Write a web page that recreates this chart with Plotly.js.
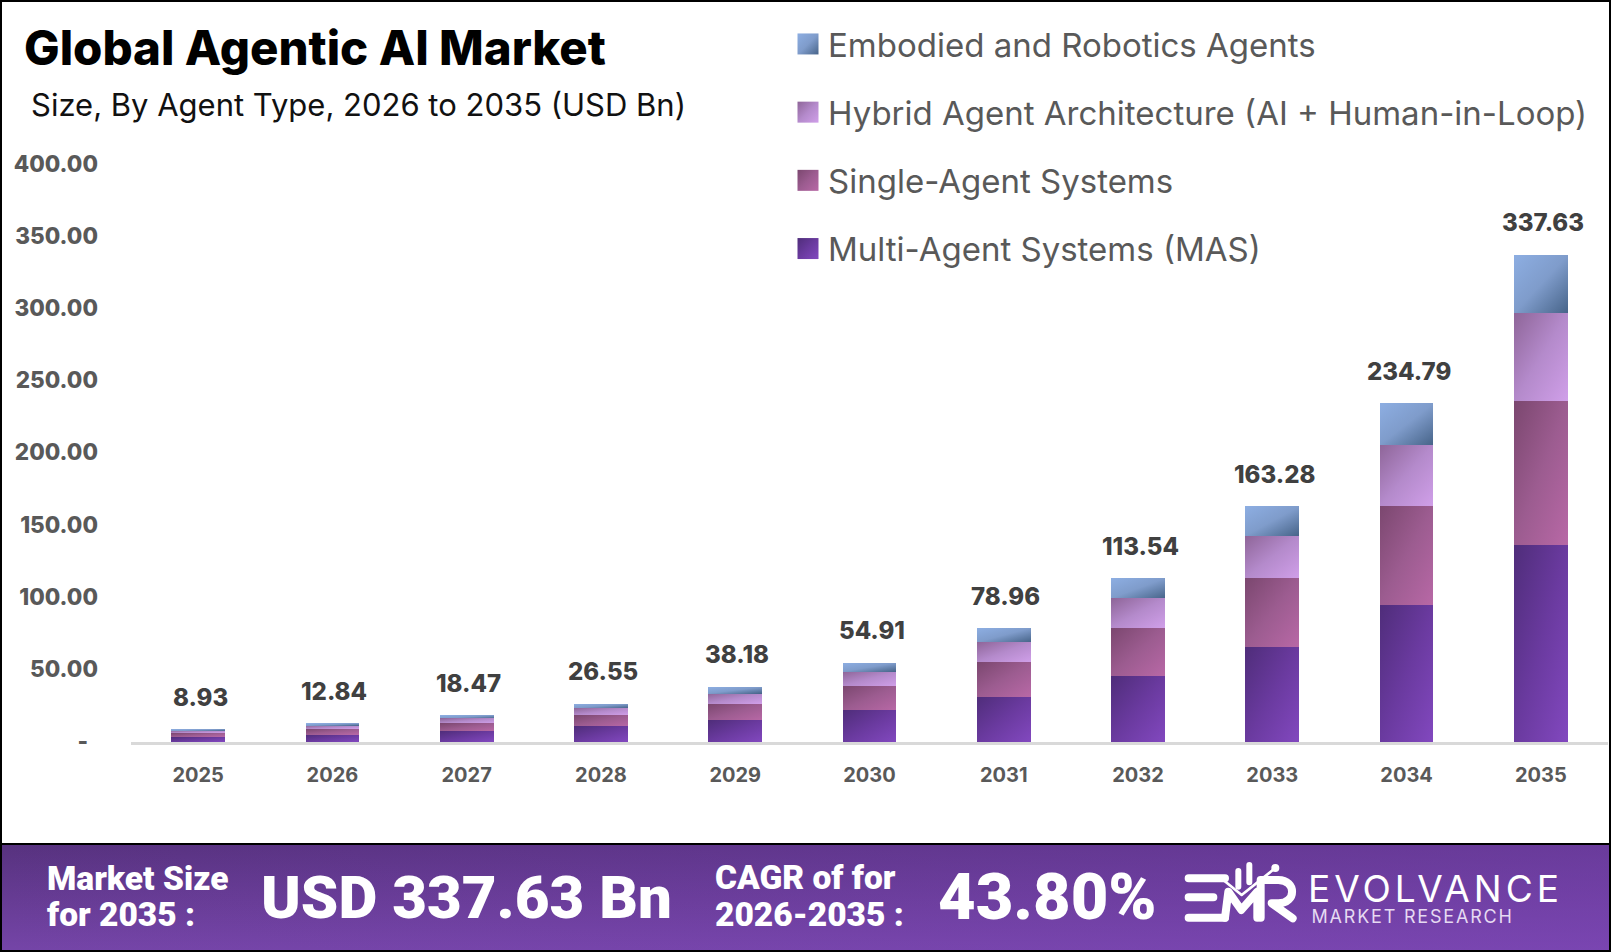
<!DOCTYPE html>
<html><head><meta charset="utf-8">
<script src="https://cdn.plot.ly/plotly-3.0.1.min.js"></script>
<style>
html,body{margin:0;padding:0;background:#fff;overflow:hidden}
#wrap{position:relative;width:1611px;height:952px}
#banner{position:absolute;left:0;top:843px;width:1611px;height:109px;box-sizing:border-box;border-top:2px solid #000;background:linear-gradient(90deg,rgba(128,70,190,0) 0%,rgba(128,70,190,.45) 100%),linear-gradient(180deg,#57327f 0%,#7545a8 100%)}
#chart{position:absolute;left:0;top:0;width:1611px;height:952px}
#logo{position:absolute;left:0;top:0;pointer-events:none}
#frame{position:absolute;left:0;top:0;width:1611px;height:952px;box-sizing:border-box;border:2px solid #000;pointer-events:none}
</style></head><body>
<div id="wrap"><div id="banner"></div><div id="chart"></div>
<svg id="logo" width="1611" height="952" fill="none" stroke="#fff" stroke-linecap="round" stroke-linejoin="round">
<g transform="translate(1170,845) scale(0.3333)">
<path stroke-width="24" d="M56 100H165M56 157H130M56 218H165"/>
<path stroke-width="24" d="M165 218L175 140L214 195L262 140V218"/>
<path stroke-width="24" d="M272 218V105H325C380 105 380 175 325 175H305L368 220"/>
<path stroke-width="8" d="M160 105L215 150L315 70"/>
<path stroke-width="18" d="M205 78V125M238 60V112"/>
<circle cx="316" cy="69" r="12" fill="#fff" stroke="none"/>
</g></svg>
<div id="frame"></div></div>
<script>
const years = ['2025','2026','2027','2028','2029','2030','2031','2032','2033','2034','2035'];
const multiAgent = [3.6,5.2,7.5,10.8,15.0,22.0,31.5,45.9,65.9,95.0,136.7];
const singleAgent = [2.6,3.8,5.4,7.8,11.6,16.8,23.7,33.4,47.8,68.8,99.4];
const hybridAgent = [1.6,2.3,3.4,4.9,7.0,10.0,14.0,20.3,29.4,42.4,61.1];
const embodiedAgent = [1.13,1.54,2.17,3.05,4.58,6.11,9.76,13.94,20.18,28.59,40.43];
const totals = [8.93,12.84,18.47,26.55,38.18,54.91,78.96,113.54,163.28,234.79,337.63];
const yTickVals = [0,50,100,150,200,250,300,350,400];
const yTickText = ['-\u00A0\u00A0','50.00','100.00','150.00','200.00','250.00','300.00','350.00','400.00'];
const seriesNames = ['Multi-Agent Systems (MAS)','Single-Agent Systems','Hybrid Agent Architecture (AI + Human-in-Loop)','Embodied and Robotics Agents'];
const seriesValues = [multiAgent,singleAgent,hybridAgent,embodiedAgent];
const baseColors = ['#6a3a9f','#9c5c90','#b48acb','#7f9ccb'];
const gradients = [
 ['#4f2d7a','#6a3a9f','#8248bf'],
 ['#7b476f','#9c5c90','#b868a6'],
 ['#8e6598','#b48acb','#d09fe9'],
 ['#8daee2','#7f9ccb','#476489']
];
const L=131,R=1608,T=165,B=742;
const px=v=>(v-L)/(R-L), py=v=>(B-v)/(B-T);
const INTER='Inter, sans-serif', ROB='Roboto, sans-serif';
const traces = seriesNames.map((n,i)=>({type:'bar',name:n,x:years,y:seriesValues[i],legendgroup:'g'+i,legendrank:100*(4-i),
  marker:{color:baseColors[i],line:{width:0}},hovertemplate:n+' %{x}: %{y:.2f}<extra></extra>'}));
const note=(text,x,y,size,o={})=>({text,xref:'paper',yref:'paper',x:px(x),y:py(y),xanchor:o.anchor||'left',yanchor:'middle',showarrow:false,
  font:{family:o.family||ROB,size,color:o.color||'#fff',weight:o.weight||900}});
const annotations = years.map((yr,i)=>({x:i,y:totals[i],xref:'x',yref:'y',text:totals[i].toFixed(2),showarrow:false,yshift:32,xshift:2,yanchor:'middle',
  font:{family:INTER,size:24,weight:800,color:'#404040'}}));
annotations.push(
 note('Size, By Agent Type, 2026 to 2035 (USD Bn)',29,104,31,{family:INTER,weight:400,color:'#111'}),
 note('Market Size',45,878,33.5),
 note('for 2035 :',45,914,33.5),
 note('USD 337.63 Bn',259,897,60),
 note('CAGR of for',713,877,33.5),
 note('2026-2035 :',713,914,33.5),
 note('43.80%',936,897,65),
 note('EVOLVANCE',1435,888,37,{family:INTER,weight:400,anchor:'center'}),
 note('MARKET RESEARCH',1412,916,18,{family:INTER,weight:400,color:'#e6daf2',anchor:'center'})
);
const layout = {
 width:1611,height:952,margin:{l:L,r:1611-R,t:T,b:952-B,pad:0},autosize:false,
 paper_bgcolor:'rgba(0,0,0,0)',plot_bgcolor:'rgba(0,0,0,0)',
 barmode:'stack',bargap:0.6,
 title:{text:'Global Agentic AI Market',x:24/1611,xanchor:'left',y:1-48/952,yanchor:'middle',font:{family:INTER,size:47.4,weight:800,color:'#000'}},
 xaxis:{type:'category',range:[-0.5,10.5],categoryorder:'array',categoryarray:years,showgrid:false,zeroline:false,showline:true,linecolor:'#d9d9d9',linewidth:2.5,ticks:'',ticklabelstandoff:13,
   tickfont:{family:INTER,size:20,weight:700,color:'#595959'}},
 yaxis:{range:[0,400],tickvals:yTickVals,ticktext:yTickText,showgrid:false,zeroline:false,showline:false,ticks:'',ticklabelstandoff:32,ticklabelshift:-1,
   tickfont:{family:INTER,size:22.5,weight:800,color:'#595959'}},
 legend:{x:px(788),xanchor:'left',y:py(16),yanchor:'top',traceorder:'grouped',tracegroupgap:22.3,
   font:{family:INTER,size:33,color:'#595959'},bgcolor:'rgba(0,0,0,0)'},
 annotations,showlegend:true
};
Plotly.newPlot('chart',traces,layout,{displayModeBar:false,responsive:false}).then(gd=>{
 const svg=gd.querySelector('svg.main-svg');
 let defs=svg.querySelector('defs');
 gradients.forEach((g,i)=>{
  const lg=document.createElementNS('http://www.w3.org/2000/svg','linearGradient');
  lg.setAttribute('id','grad'+i);lg.setAttribute('x1','0');lg.setAttribute('y1','0');lg.setAttribute('x2','1');lg.setAttribute('y2','1');
  g.forEach((c,j)=>{const s=document.createElementNS('http://www.w3.org/2000/svg','stop');s.setAttribute('offset',String(j/2));s.setAttribute('stop-color',c);lg.appendChild(s);});
  defs.appendChild(lg);
 });
 gd.querySelectorAll('.barlayer .trace.bars').forEach((t,i)=>{t.querySelectorAll('.point path').forEach(p=>{p.style.fill='url(#grad'+i+')';});});
 gd.querySelectorAll('.legend .traces').forEach(t=>{
  const name=t.querySelector('text').textContent;const i=seriesNames.indexOf(name);
  t.querySelectorAll('.legendpoints path').forEach(p=>{p.setAttribute('d','M10.5,10.5H-10.5V-10.5H10.5Z');p.style.fill='url(#grad'+i+')';p.style.stroke='none';});
 });
 gd.querySelectorAll('.annotation-text').forEach(t=>{
  if(t.textContent==='EVOLVANCE')t.style.letterSpacing='4px';
  if(t.textContent==='MARKET RESEARCH')t.style.letterSpacing='1.8px';
 });
});
</script></body></html>
